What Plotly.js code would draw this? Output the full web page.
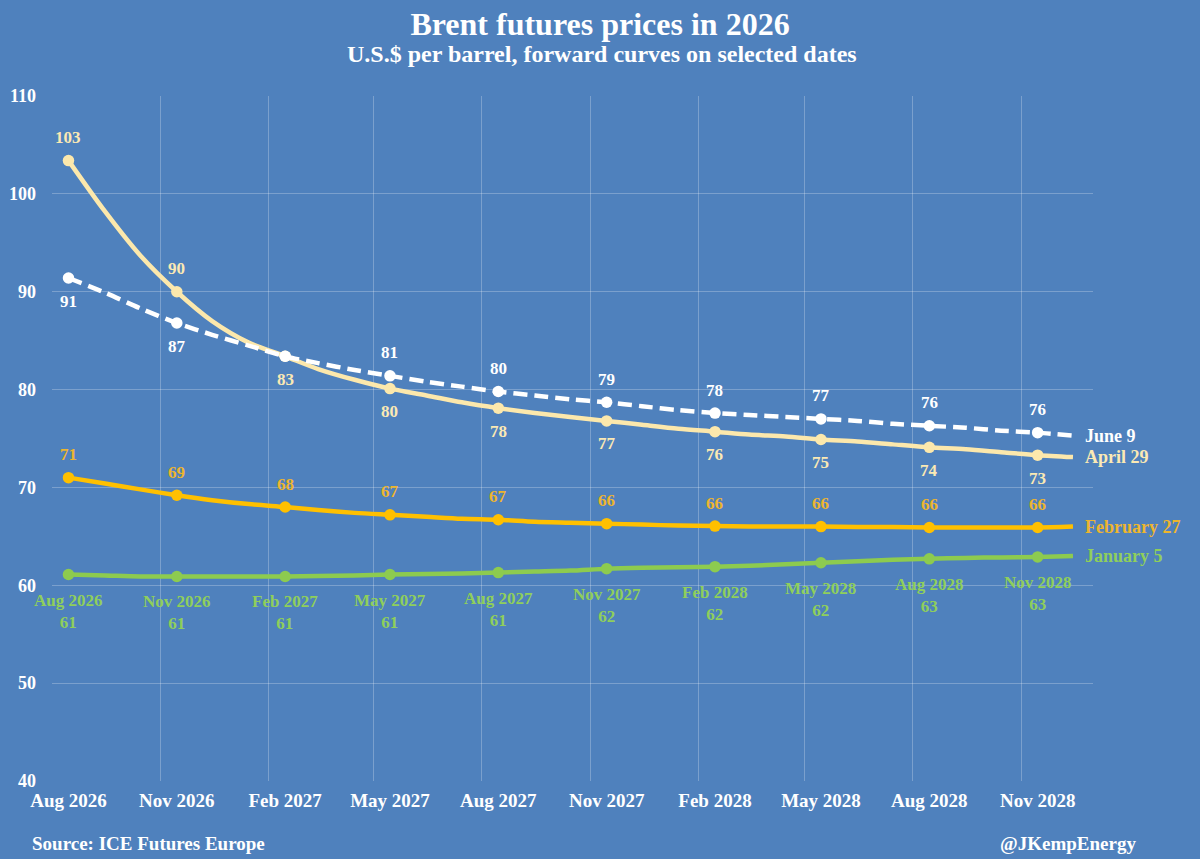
<!DOCTYPE html>
<html>
<head>
<meta charset="utf-8">
<script src="https://cdn.plot.ly/plotly-3.0.1.min.js"></script>
<style>html,body{margin:0;padding:0;background:#4F81BD;}#chart{width:1200px;height:859px;}</style>
</head>
<body>
<div id="chart"></div>
<script>
// ---- data ----
const months = ['2026-08-15','2026-09-15','2026-10-15','2026-11-15','2026-12-15',
  '2027-01-15','2027-02-15','2027-03-15','2027-04-15','2027-05-15','2027-06-15','2027-07-15',
  '2027-08-15','2027-09-15','2027-10-15','2027-11-15','2027-12-15',
  '2028-01-15','2028-02-15','2028-03-15','2028-04-15','2028-05-15','2028-06-15','2028-07-15',
  '2028-08-15','2028-09-15','2028-10-15','2028-11-15','2028-12-15'];
const june9 = [91.4, 89.9, 88.3, 86.8, 85.6, 84.5, 83.4, 82.7, 82.0, 81.4, 80.8, 80.3,
  79.8, 79.4, 79.0, 78.7, 78.3, 77.9, 77.6, 77.4, 77.2, 77.0, 76.8, 76.5,
  76.3, 76.1, 75.8, 75.6, 75.3];
const april29 = [103.4, 98.2, 93.7, 90.0, 87.0, 84.8, 83.4, 82.1, 81.0, 80.1, 79.4, 78.7,
  78.1, 77.6, 77.2, 76.8, 76.4, 76.0, 75.7, 75.4, 75.2, 74.9, 74.7, 74.4,
  74.1, 73.9, 73.6, 73.3, 73.1];
const feb27 = [71.0, 70.4, 69.8, 69.2, 68.7, 68.3, 68.0, 67.7, 67.4, 67.2, 67.0, 66.8,
  66.7, 66.5, 66.4, 66.3, 66.2, 66.1, 66.05, 66.0, 66.0, 66.0, 65.95, 65.95,
  65.9, 65.9, 65.9, 65.9, 66.0];
const jan5 = [61.1, 61.0, 60.9, 60.9, 60.9, 60.9, 60.9, 60.95, 61.0, 61.1, 61.15, 61.2,
  61.3, 61.4, 61.5, 61.7, 61.8, 61.85, 61.9, 62.0, 62.15, 62.3, 62.45, 62.6,
  62.7, 62.8, 62.85, 62.9, 63.0];
const seriesNames = ['January 5', 'February 27', 'April 29', 'June 9'];
const tickLabels = ['Aug 2026','Nov 2026','Feb 2027','May 2027','Aug 2027',
  'Nov 2027','Feb 2028','May 2028','Aug 2028','Nov 2028'];
const gridDates = ['2026-08-01','2026-11-01','2027-02-01','2027-05-01','2027-08-01',
  '2027-11-01','2028-02-01','2028-05-01','2028-08-01','2028-11-01'];

// ---- styling ----
const FONT = 'Liberation Serif, Times New Roman, serif';
const BG = '#4F81BD';
const GRID = 'rgba(255,255,255,0.25)';
const markIdx = months.map((m, i) => i).filter(i => i % 3 === 0);

const styles = [
  {values: jan5,    line: '#8DCB4F', text: '#8FCF5B', dash: 'solid', label: 'below2'},
  {values: feb27,   line: '#FFC000', text: '#EDB52E', dash: 'solid', label: 'above'},
  {values: april29, line: '#FCE8AC', text: '#FBE9B4', dash: 'solid',
     label: ['above','above','below','below','below','below','below','below','below','below']},
  {values: june9,   line: '#FFFFFF', text: '#FFFFFF', dash: '14px,7px',
     label: ['below','below','none','above','above','above','above','above','above','above']}
];

const traces = [];
const annotations = [];

styles.forEach((s, si) => {
  traces.push({
    x: months, y: s.values, type: 'scatter', mode: 'lines',
    line: {color: s.line, width: 4.5, shape: 'spline', smoothing: 0.8, dash: s.dash},
    hoverinfo: 'skip', showlegend: false
  });
  traces.push({
    x: markIdx.map(i => months[i]), y: markIdx.map(i => s.values[i]),
    type: 'scatter', mode: 'markers',
    marker: {color: s.line, size: 11.5},
    showlegend: false, hoverinfo: 'skip'
  });
  markIdx.forEach((i, k) => {
    const pos = Array.isArray(s.label) ? s.label[k] : s.label;
    if (pos === 'none') return;
    const v = Math.round(s.values[i]);
    const a = {
      xref: 'x', yref: 'y', x: months[i], y: s.values[i], showarrow: false,
      font: {family: FONT, size: 17, color: s.text, weight: 700}
    };
    if (pos === 'above') { a.text = String(v); a.yanchor = 'middle'; a.yshift = 23; }
    else if (pos === 'below') { a.text = String(v); a.yanchor = 'middle'; a.yshift = -23; }
    else { a.text = tickLabels[k] + '<br>' + v; a.yanchor = 'top'; a.yshift = -14; }
    annotations.push(a);
  });
  const last = s.values.length - 1;
  annotations.push({
    xref: 'x', yref: 'y', x: months[last], y: s.values[last], showarrow: false,
    xanchor: 'left', yanchor: 'middle', xshift: 10, text: seriesNames[si],
    font: {family: FONT, size: 18, color: s.text, weight: 700}
  });
});

annotations.push({
  xref: 'paper', yref: 'paper', x: 0.5283, y: 1.061, xanchor: 'center', yanchor: 'middle',
  showarrow: false, text: 'U.S.$ per barrel, forward curves on selected dates',
  font: {family: FONT, size: 24, color: '#FFFFFF', weight: 700}
});
annotations.push({
  xref: 'paper', yref: 'paper', x: -0.021, y: -0.091, xanchor: 'left', yanchor: 'middle',
  showarrow: false, text: 'Source: ICE Futures Europe',
  font: {family: FONT, size: 19, color: '#FFFFFF', weight: 700}
});
annotations.push({
  xref: 'paper', yref: 'paper', x: 1.0432, y: -0.091, xanchor: 'right', yanchor: 'middle',
  showarrow: false, text: '@JKempEnergy',
  font: {family: FONT, size: 19, color: '#FFFFFF', weight: 700}
});

const layout = {
  width: 1200, height: 859,
  paper_bgcolor: BG, plot_bgcolor: BG,
  margin: {l: 52, r: 107, t: 96, b: 78},
  title: {
    text: 'Brent futures prices in 2026', x: 0.5, xanchor: 'center',
    y: 1 - 24 / 859, yanchor: 'middle', yref: 'container',
    font: {family: FONT, size: 32, color: '#FFFFFF', weight: 700}
  },
  xaxis: {
    type: 'date', range: ['2026-08-01', '2029-01-01'],
    tickmode: 'array', tickvals: markIdx.map(i => months[i]), ticktext: tickLabels,
    showgrid: false, zeroline: false, showline: false, ticks: '',
    ticklabelstandoff: 6,
    tickfont: {family: FONT, size: 19, color: '#FFFFFF', weight: 700},
    minor: {tickmode: 'array', tickvals: gridDates, showgrid: true, gridcolor: GRID, gridwidth: 1, ticks: ''},
    fixedrange: true
  },
  yaxis: {
    range: [40, 110], dtick: 10, tick0: 40,
    showgrid: true, gridcolor: GRID, gridwidth: 1, zeroline: false, showline: false, ticks: '',
    ticklabelstandoff: 15,
    tickfont: {family: FONT, size: 18, color: '#FFFFFF', weight: 700},
    fixedrange: true
  },
  annotations: annotations,
  showlegend: false
};

Plotly.newPlot('chart', traces, layout, {displayModeBar: false, staticPlot: true});
</script>
</body>
</html>
